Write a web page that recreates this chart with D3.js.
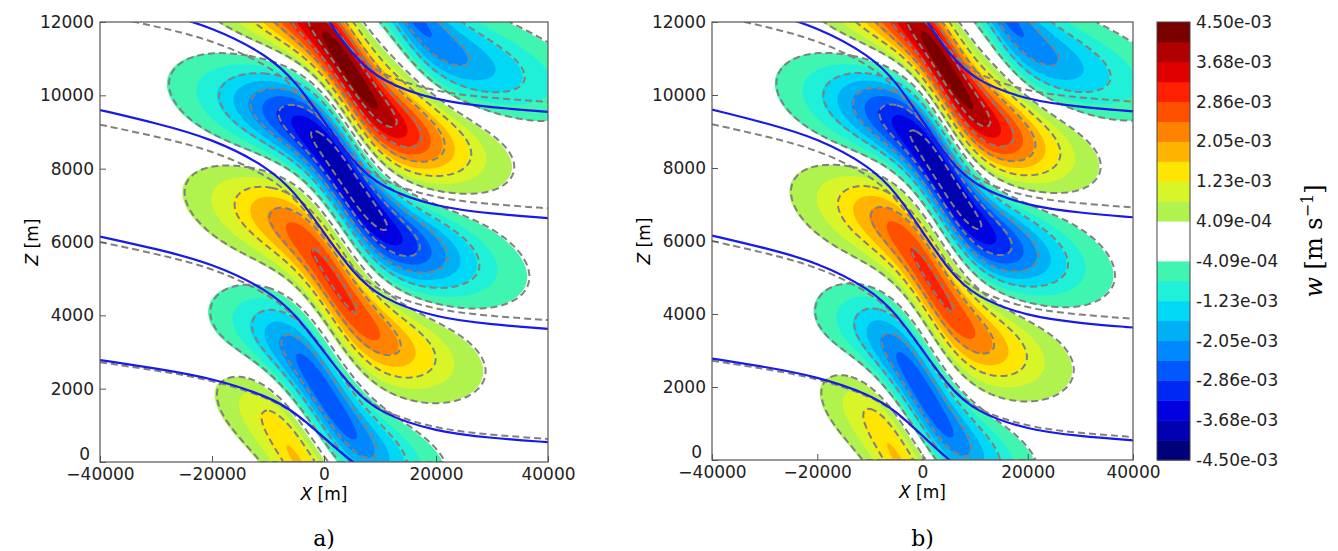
<!DOCTYPE html>
<html><head><meta charset="utf-8">
<script src="https://cdn.jsdelivr.net/npm/d3@7"></script>
<style>body{margin:0;background:#fff}text{font-family:"DejaVu Sans",sans-serif}</style>
</head><body><svg id="fig" width="1338" height="551"></svg>
<script>
// lobes of vertical velocity: centre x, z [m], amplitude, x spread
var lobeX = [4400, 3900, 1400, 300, -5000, 13300];
var lobeZ = [10640, 7640, 4900, 1720, 0, 12700];
var lobeAmp = [4.4e-3, -4.1e-3, 3.0e-3, -2.8e-3, 1.7e-3, -2.6e-3];
var lobeSx = [13500, 15000, 13500, 11000, 9000, 18000];
// streamlines (solid): height at left and right edge
var lineLeft = [15550, 12650, 9600, 6150, 2780];
var lineRight = [9550, 6650, 3630, 540, -1000];
var dashShift = [450, 450, 400, 150, 60];
// shared shape of a streamline: fraction of drop vs x
var profX = [-40000, -30000, -20000, -10000, -5000, 0, 5000, 10000, 20000, 30000, 40000];
var profF = [0, 0.06, 0.13, 0.26, 0.38, 0.56, 0.74, 0.86, 0.95, 0.98, 1.0];
// colour levels
var step = 4.09e-4;
var posColors = ["#b0f24e","#d8f52a","#ffe600","#ffb400","#ff8200","#ff5000","#ff2000","#e00000","#b00000","#7a0000"];
var negColors = ["#40f5b0","#20f0d8","#00d8f5","#00b0f5","#0088ff","#0058ff","#0028f5","#0000e0","#0000b0","#00007a"];
var cbTicks = ["4.50e-03","3.68e-03","2.86e-03","2.05e-03","1.23e-03","4.09e-04","-4.09e-04","-1.23e-03","-2.05e-03","-2.86e-03","-3.68e-03","-4.50e-03"];
var xTicks = [-40000, -20000, 0, 20000, 40000];
var zTicks = [0, 2000, 4000, 6000, 8000, 10000, 12000];

var svg = d3.select("#fig");

function field(x, z, shift) {
  var v = 0;
  for (var i = 0; i < lobeX.length; i++) {
    var dx = x - lobeX[i] - shift;
    var c = lobeZ[i] - 1500 * Math.tanh(dx / 8000) - 0.035 * dx;
    var a = dx / lobeSx[i], b = (z - c) / 880;
    v += lobeAmp[i] * Math.exp(-0.5 * (a * a + b * b));
  }
  return v;
}

var nx = 201, nz = 151;
function grid(shift, sign) {
  var g = new Array(nx * nz);
  for (var j = 0; j < nz; j++) for (var i = 0; i < nx; i++) {
    g[j * nx + i] = sign * field(-40000 + i * 400, j * 80, shift);
  }
  return g;
}

function panel(id, x0, x1, y0, y1, label, dashX) {
  var x = d3.scaleLinear().domain([-40000, 40000]).range([x0, x1]);
  var y = d3.scaleLinear().domain([0, 12000]).range([y1, y0]);
  var g = svg.append("g");
  g.append("clipPath").attr("id", "c" + id).append("rect")
    .attr("x", x0).attr("y", y0).attr("width", x1 - x0).attr("height", y1 - y0);
  var body = g.append("g").attr("clip-path", "url(#c" + id + ")");
  var path = d3.geoPath(d3.geoTransform({point: function(gx, gy) {
    this.stream.point(x(-40000 + gx * 400), y(gy * 80));
  }}));
  var pos = grid(0, 1), neg = grid(0, -1);
  d3.range(1, 11).forEach(function(k) {
    var t = k * step;
    body.append("path").datum(d3.contours().size([nx, nz]).contour(pos, t))
      .attr("d", path).attr("fill", posColors[k - 1]);
    body.append("path").datum(d3.contours().size([nx, nz]).contour(neg, t))
      .attr("d", path).attr("fill", negColors[k - 1]);
  });
  // dashed contours of the second solution
  var pos2 = grid(dashX, 1), neg2 = grid(dashX, -1);
  [1, 3, 5, 7, 9].forEach(function(k) {
    [pos2, neg2].forEach(function(gr) {
      body.append("path").datum(d3.contours().size([nx, nz]).contour(gr, k * step))
        .attr("d", path).attr("fill", "none").attr("stroke", "#808080")
        .attr("stroke-width", 2).attr("stroke-dasharray", "7,4");
    });
  });
  var line = d3.line().x(function(d) { return x(d[0]); }).y(function(d) { return y(d[1]); })
    .curve(d3.curveBasis);
  lineLeft.forEach(function(l, i) {
    var r = lineRight[i];
    var dl = l - dashShift[i], dr = r + dashShift[i] * 0.6;
    body.append("path").datum(profX.map(function(px, k) { return [px, dl + (dr - dl) * profF[k]]; }))
      .attr("d", line).attr("fill", "none").attr("stroke", "#808080")
      .attr("stroke-width", 2).attr("stroke-dasharray", "7,4");
    body.append("path").datum(profX.map(function(px, k) { return [px, l + (r - l) * profF[k]]; }))
      .attr("d", line).attr("fill", "none").attr("stroke", "#1a1ae6").attr("stroke-width", 2.2);
  });
  g.append("rect").attr("x", x0).attr("y", y0).attr("width", x1 - x0).attr("height", y1 - y0)
    .attr("fill", "none").attr("stroke", "#555").attr("stroke-width", 1.2);
  var ax = g.append("g").attr("transform", "translate(0," + y1 + ")")
    .call(d3.axisBottom(x).tickValues(xTicks).tickSize(-6).tickPadding(6).tickFormat(function(d) { return d < 0 ? "\u2212" + (-d) : d; }));
  var ay = g.append("g").attr("transform", "translate(" + x0 + ",0)")
    .call(d3.axisLeft(y).tickValues(zTicks).tickSize(-6).tickPadding(6).tickFormat(function(d) { return d; }));
  [ax, ay].forEach(function(a) {
    a.select(".domain").remove();
    a.selectAll("line").attr("stroke", "#555");
    a.selectAll("text").style("font-size", "17px").attr("fill", "#222");
  });
  ay.selectAll("text").filter(function(d) { return d === 0; }).attr("dy", "-0.15em").attr("dx", "-4");
  var xl = g.append("text").attr("x", (x0 + x1) / 2).attr("y", y1 + 38).attr("text-anchor", "middle")
    .style("font-size", "17px");
  xl.append("tspan").style("font-style", "italic").text("X");
  xl.append("tspan").text(" [m]");
  var yl = g.append("text").attr("transform", "translate(" + (x0 - 62) + "," + ((y0 + y1) / 2) + ") rotate(-90)")
    .attr("text-anchor", "middle").style("font-size", "17px");
  yl.append("tspan").style("font-style", "italic").text("Z");
  yl.append("tspan").text(" [m]");
  g.append("text").attr("x", (x0 + x1) / 2).attr("y", 546).attr("text-anchor", "middle")
    .style("font-family", "DejaVu Serif, serif").style("font-size", "22px").text(label);
}

panel("a", 100, 548, 22, 462, "a)", 400);
panel("b", 712, 1133, 22, 460, "b)", 300);

// colorbar
var cb = svg.append("g");
var cy = d3.scaleLinear().domain([-4.5e-3, 4.5e-3]).range([460, 22]);
var bands = negColors.slice().reverse().concat(["#ffffff", "#ffffff"], posColors);
var bw = 9e-3 / 22;
bands.forEach(function(c, i) {
  var lo = -4.5e-3 + i * bw;
  cb.append("rect").attr("x", 1157).attr("width", 33)
    .attr("y", cy(lo + bw)).attr("height", cy(lo) - cy(lo + bw) + 0.5).attr("fill", c);
});
cb.append("rect").attr("x", 1157).attr("y", 22).attr("width", 33).attr("height", 438)
  .attr("fill", "none").attr("stroke", "#444");
cbTicks.forEach(function(t, i) {
  var v = 4.5e-3 - i * (9e-3 / 11);
  cb.append("text").attr("x", 1196).attr("y", cy(v) + 6).style("font-size", "17px").attr("fill", "#222").text(t);
});
var wl = svg.append("text").attr("transform", "translate(1322,241) rotate(-90)").attr("text-anchor", "middle")
  .style("font-family", "DejaVu Serif, serif").style("font-size", "24px");
wl.append("tspan").style("font-style", "italic").text("w");
wl.append("tspan").text("  [m s");
wl.append("tspan").attr("dy", -9).style("font-size", "16px").text("\u22121");
wl.append("tspan").attr("dy", 9).text("]");
</script></body></html>
